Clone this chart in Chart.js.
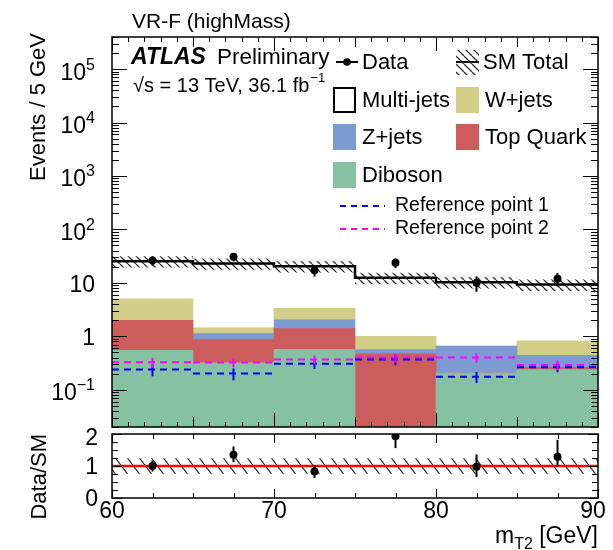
<!DOCTYPE html>
<html>
<head>
<meta charset="utf-8">
<script src="https://cdn.jsdelivr.net/npm/chart.js@4.4.0/dist/chart.umd.min.js"></script>
<style>
body { margin: 0; background: #fff; }
#wrap { position: relative; width: 613px; height: 550px; }
#wrap canvas { position: absolute; left: 0; top: 0; }
</style>
</head>
<body>
<div id="wrap">
<canvas id="mainChart" width="613" height="550"></canvas>
<canvas id="ratioChart" width="613" height="550"></canvas>
</div>
<script>
// binning (m_T2 in GeV)
const binEdges = [60, 65, 70, 75, 80, 85, 90]
const binNames = ['60-65', '65-70', '70-75', '75-80', '80-85', '85-90']
const binCenters = [62.5, 67.5, 72.5, 77.5, 82.5, 87.5]

// data
const dataEvents = [26.2, 30.7, 17.2, 23.7, 10.0, 11.9]
const dataErr = [5.1, 5.5, 4.1, 4.9, 3.2, 3.4]

// backgrounds (stacked, bottom to top)
const diboson = [0.547, 0.318, 0.571, 0.001, 0.206, 0.238]
const topQuark = [1.44, 0.549, 0.82, 0.467, 0.001, 0.025]
const zJets = [0.001, 0.253, 0.64, 0.096, 0.444, 0.178]
const wJets = [3.02, 0.32, 1.31, 0.436, 0.001, 0.379]
const multiJets = [20.4, 21.6, 17.2, 11.4, 9.65, 8.48]

const smTotal = [25.4, 23.0, 20.5, 12.4, 10.3, 9.3]
const smRelErr = [0.24, 0.24, 0.24, 0.24, 0.24, 0.24]

// signal reference points
const refPoint1 = [0.238, 0.200, 0.304, 0.366, 0.174, 0.263]
const refPoint1Err = [0.06, 0.05, 0.06, 0.08, 0.04, 0.05]
const refPoint2 = [0.326, 0.322, 0.366, 0.399, 0.399, 0.291]
const refPoint2Err = [0.07, 0.06, 0.07, 0.08, 0.08, 0.06]

// ratio panel
const ratioVals = [1.0, 1.35, 0.83, 1.93, 0.98, 1.29]
const ratioErrUp = [0.17, 0.26, 0.2, 0.39, 0.38, 0.53]
const ratioErrDown = [0.17, 0.23, 0.2, 0.37, 0.32, 0.31]

// tick labels
const yDecades = [-1, 0, 1, 2, 3, 4, 5]
const xTickLabels = [60, 70, 80, 90]
const ratioTickLabels = [0, 1, 2]

const FONT = '"Liberation Sans", Arial, Helvetica, sans-serif'
const colDiboson = '#86c1a1'
const colTop = '#cd5c5c'
const colZ = '#7b9bd2'
const colW = '#d2cd87'
const colRef1 = '#0000ff'
const colRef2 = '#ff00ff'

function makeHatch(w, h) {
    const c = document.createElement('canvas')
    c.width = w
    c.height = h
    const g = c.getContext('2d')
    g.strokeStyle = '#333'
    g.lineWidth = 1.3
    g.beginPath()
    g.moveTo(0, 0); g.lineTo(w, h)
    g.moveTo(-w, 0); g.lineTo(0, h)
    g.moveTo(w, 0); g.lineTo(2 * w, h)
    g.stroke()
    return g.createPattern(c, 'repeat')
}
const hatchMain = makeHatch(8, 8)
const hatchRatio = makeHatch(12, 16)

// histogram outline points, two per bin
function histPoints(vals) {
    const pts = []
    vals.forEach((v, i) => {
        pts.push({x: binEdges[i], y: v})
        pts.push({x: binEdges[i + 1], y: v})
    })
    return pts
}
// separate horizontal segments per bin
function segPoints(vals) {
    const pts = []
    vals.forEach((v, i) => {
        pts.push({x: binEdges[i], y: v}, {x: binEdges[i + 1], y: v}, {x: binEdges[i + 1], y: null})
    })
    return pts
}

function line(ctx, x1, y1, x2, y2) {
    ctx.beginPath()
    ctx.moveTo(x1, y1)
    ctx.lineTo(x2, y2)
    ctx.stroke()
}

function drawPow(ctx, exp, xRight, y) {
    ctx.font = '16px ' + FONT
    const ew = ctx.measureText(exp).width
    ctx.font = '23px ' + FONT
    const bw = ctx.measureText('10').width
    ctx.textAlign = 'left'
    ctx.textBaseline = 'middle'
    ctx.fillText('10', xRight - ew - bw, y + 4)
    ctx.font = '16px ' + FONT
    ctx.fillText(exp, xRight - ew, y - 4)
}

// MAIN PANEL decorations
const mainDecor = {
    id: 'mainDecor',
    afterDraw(chart) {
        const ctx = chart.ctx
        const a = chart.chartArea
        const xs = chart.scales.x2
        const ys = chart.scales.y2
        ctx.save()

        // error bars of reference points
        ctx.lineWidth = 2
        ;[[refPoint1, refPoint1Err, colRef1], [refPoint2, refPoint2Err, colRef2]].forEach(([vals, errs, col]) => {
            ctx.strokeStyle = col
            binCenters.forEach((c, i) => {
                const px = xs.getPixelForValue(c)
                line(ctx, px, ys.getPixelForValue(vals[i] + errs[i]), px, ys.getPixelForValue(vals[i] - errs[i]))
            })
        })

        // data error bars
        ctx.strokeStyle = '#000'
        binCenters.forEach((c, i) => {
            const px = xs.getPixelForValue(c)
            line(ctx, px, ys.getPixelForValue(dataEvents[i] + dataErr[i]), px, ys.getPixelForValue(dataEvents[i] - dataErr[i]))
        })

        // frame
        ctx.lineWidth = 1.5
        ctx.strokeRect(a.left, a.top, a.right - a.left, a.bottom - a.top)

        // y ticks (log)
        ctx.lineWidth = 1
        for (let d = -2; d <= 5; d++) {
            for (let k = 1; k <= 9; k++) {
                const v = k * Math.pow(10, d)
                if (v < ys.min || v > ys.max) continue
                const py = Math.round(ys.getPixelForValue(v)) + 0.5
                const len = k === 1 ? 15 : 7
                line(ctx, a.left, py, a.left + len, py)
                line(ctx, a.right - len, py, a.right, py)
            }
        }
        // x ticks
        for (let g = 60; g <= 90; g++) {
            const px = Math.round(xs.getPixelForValue(g)) + 0.5
            const len = g % 10 === 0 ? 14 : (g % 5 === 0 ? 10 : 5)
            line(ctx, px, a.bottom, px, a.bottom - len)
            line(ctx, px, a.top, px, a.top + len)
        }

        // y labels
        ctx.fillStyle = '#000'
        yDecades.forEach(d => {
            const py = ys.getPixelForValue(Math.pow(10, d))
            if (d === 0 || d === 1) {
                ctx.font = '23px ' + FONT
                ctx.textAlign = 'right'
                ctx.textBaseline = 'middle'
                ctx.fillText(d === 0 ? '1' : '10', 95, py + 2.5)
            } else {
                drawPow(ctx, String(d).replace('-', '\u2212'), 95, py)
            }
        })

        // y title
        ctx.save()
        ctx.translate(45, 33)
        ctx.rotate(-Math.PI / 2)
        ctx.font = '22px ' + FONT
        ctx.textAlign = 'right'
        ctx.textBaseline = 'alphabetic'
        ctx.fillText('Events / 5 GeV', 0, 0)
        ctx.restore()

        // titles
        ctx.textAlign = 'left'
        ctx.textBaseline = 'alphabetic'
        ctx.font = '21px ' + FONT
        ctx.fillText('VR-F (highMass)', 132, 28)
        ctx.font = 'italic bold 23px ' + FONT
        ctx.fillText('ATLAS', 131, 64)
        ctx.font = '22.5px ' + FONT
        ctx.fillText('Preliminary', 217, 64)
        ctx.font = '20px ' + FONT
        const lumi = '\u221As = 13 TeV, 36.1 fb'
        ctx.fillText(lumi, 133, 92)
        const lw = ctx.measureText(lumi).width
        ctx.font = '13px ' + FONT
        ctx.fillText('\u22121', 133 + lw + 1, 82)

        // legend
        ctx.font = '22px ' + FONT
        ctx.textBaseline = 'middle'
        // Data
        ctx.strokeStyle = '#000'
        ctx.lineWidth = 2
        line(ctx, 336, 62, 358, 62)
        ctx.beginPath()
        ctx.arc(347, 62, 3.8, 0, Math.PI * 2)
        ctx.fill()
        ctx.fillText('Data', 362, 63)
        // SM Total
        ctx.save()
        ctx.beginPath()
        ctx.rect(456, 50, 23, 25)
        ctx.clip()
        ctx.fillStyle = hatchMain
        ctx.fillRect(456, 50, 23, 25)
        ctx.restore()
        line(ctx, 456, 62, 479, 62)
        ctx.fillText('SM Total', 483, 63)
        // boxes
        const boxes = [
            [333, 87, null, 'Multi-jets'], [456, 87, colW, 'W+jets'],
            [333, 124, colZ, 'Z+jets'], [456, 124, colTop, 'Top Quark'],
            [333, 162, colDiboson, 'Diboson']
        ]
        boxes.forEach(([bx, by, col, name]) => {
            if (col) {
                ctx.fillStyle = col
                ctx.fillRect(bx, by, 23, 26)
            } else {
                ctx.lineWidth = 2
                ctx.strokeStyle = '#000'
                ctx.strokeRect(bx + 1, by + 1, 21, 24)
            }
            ctx.fillStyle = '#000'
            ctx.fillText(name, bx + 29, by + 14)
        })
        // reference points
        ctx.lineWidth = 2
        ctx.setLineDash([6, 5])
        ctx.strokeStyle = colRef1
        line(ctx, 340, 206, 385, 206)
        ctx.strokeStyle = colRef2
        line(ctx, 340, 229, 385, 229)
        ctx.setLineDash([])
        ctx.font = '19.5px ' + FONT
        ctx.fillText('Reference point 1', 395, 206)
        ctx.fillText('Reference point 2', 395, 229)

        ctx.restore()
    }
}

new Chart(document.getElementById('mainChart'), {
    type: 'bar',
    data: {
        labels: binNames,
        datasets: [
            {label: 'Diboson', data: diboson, backgroundColor: colDiboson, stack: 'bg', order: 10},
            {label: 'Top Quark', data: topQuark, backgroundColor: colTop, stack: 'bg', order: 10},
            {label: 'Z+jets', data: zJets, backgroundColor: colZ, stack: 'bg', order: 10},
            {label: 'W+jets', data: wJets, backgroundColor: colW, stack: 'bg', order: 10},
            {label: 'Multi-jets', data: multiJets, backgroundColor: '#ffffff', stack: 'bg', order: 10},
            {
                type: 'line', label: 'SM up', xAxisID: 'x2', yAxisID: 'y2',
                data: histPoints(smTotal.map((v, i) => v * (1 + smRelErr[i]))),
                borderWidth: 0, pointRadius: 0, fill: '+1', backgroundColor: hatchMain, order: 5
            },
            {
                type: 'line', label: 'SM down', xAxisID: 'x2', yAxisID: 'y2',
                data: histPoints(smTotal.map((v, i) => v * (1 - smRelErr[i]))),
                borderWidth: 0, pointRadius: 0, fill: false, order: 5
            },
            {
                type: 'line', label: 'SM Total', xAxisID: 'x2', yAxisID: 'y2',
                data: histPoints(smTotal), borderColor: '#000', borderWidth: 2.5,
                pointRadius: 0, fill: false, order: 3
            },
            {
                type: 'line', label: 'Reference point 1', xAxisID: 'x2', yAxisID: 'y2',
                data: segPoints(refPoint1), borderColor: colRef1, borderWidth: 2, borderDash: [7, 5],
                pointRadius: 0, fill: false, order: 4
            },
            {
                type: 'line', label: 'Reference point 2', xAxisID: 'x2', yAxisID: 'y2',
                data: segPoints(refPoint2), borderColor: colRef2, borderWidth: 2, borderDash: [7, 5],
                pointRadius: 0, fill: false, order: 4.5
            },
            {
                type: 'line', label: 'Data', xAxisID: 'x2', yAxisID: 'y2',
                data: binCenters.map((c, i) => ({x: c, y: dataEvents[i]})),
                showLine: false, pointRadius: 4, pointBackgroundColor: '#000', pointBorderWidth: 0, order: 0
            }
        ]
    },
    options: {
        responsive: false,
        animation: false,
        layout: {padding: {left: 112, right: 15, top: 37, bottom: 123}},
        plugins: {legend: {display: false}, tooltip: {enabled: false}},
        datasets: {bar: {barPercentage: 1, categoryPercentage: 1, borderWidth: 0, grouped: false}},
        scales: {
            x: {display: false, stacked: true, offset: true},
            x2: {type: 'linear', display: false, min: 60, max: 90, offset: false, grid: {offset: false}},
            y: {type: 'logarithmic', display: false, stacked: true, min: 0.02, max: 4e5},
            y2: {type: 'logarithmic', display: false, min: 0.02, max: 4e5}
        }
    },
    plugins: [mainDecor]
})

// RATIO PANEL decorations
const ratioDecor = {
    id: 'ratioDecor',
    afterDraw(chart) {
        const ctx = chart.ctx
        const a = chart.chartArea
        const xs = chart.scales.x
        const ys = chart.scales.y
        ctx.save()

        // error bars
        ctx.strokeStyle = '#000'
        ctx.lineWidth = 2
        ctx.beginPath()
        ctx.rect(a.left, a.top, a.right - a.left, a.bottom - a.top)
        ctx.clip()
        binCenters.forEach((c, i) => {
            const px = xs.getPixelForValue(c)
            line(ctx, px, ys.getPixelForValue(ratioVals[i] + ratioErrUp[i]), px, ys.getPixelForValue(ratioVals[i] - ratioErrDown[i]))
        })
        ctx.restore()
        ctx.save()

        // frame
        ctx.lineWidth = 1.5
        ctx.strokeRect(a.left, a.top, a.right - a.left, a.bottom - a.top)

        // ticks
        ctx.lineWidth = 1
        for (let r = 0; r <= 2.001; r += 0.25) {
            const py = Math.round(ys.getPixelForValue(r)) + 0.5
            const len = Math.abs(r - Math.round(r)) < 0.01 ? 10 : 6
            line(ctx, a.left, py, a.left + len, py)
            line(ctx, a.right - len, py, a.right, py)
        }
        for (let g = 60; g <= 90; g += 2.5) {
            const px = Math.round(xs.getPixelForValue(g)) + 0.5
            const len = g % 10 === 0 ? 9 : 5
            line(ctx, px, a.bottom, px, a.bottom - len)
            line(ctx, px, a.top, px, a.top + len)
        }

        // labels
        ctx.fillStyle = '#000'
        ctx.font = '23px ' + FONT
        ctx.textAlign = 'right'
        ctx.textBaseline = 'middle'
        ratioTickLabels.forEach(r => {
            const py = ys.getPixelForValue(r)
            ctx.fillText(String(r), 98, py + (r === 2 ? 5 : 2))
        })
        ctx.textAlign = 'center'
        xTickLabels.forEach(g => {
            let px = xs.getPixelForValue(g)
            ctx.fillText(String(g), g === 90 ? px - 5 : px, 512)
        })

        // x title m_T2 [GeV]
        ctx.textAlign = 'left'
        ctx.textBaseline = 'alphabetic'
        ctx.font = '23px ' + FONT
        const wm = ctx.measureText('m').width
        const wg = ctx.measureText(' [GeV]').width
        ctx.font = '16px ' + FONT
        const wt = ctx.measureText('T2').width
        let x0 = 598 - wm - wt - wg
        ctx.font = '23px ' + FONT
        ctx.fillText('m', x0, 543)
        ctx.fillText(' [GeV]', x0 + wm + wt, 543)
        ctx.font = '16px ' + FONT
        ctx.fillText('T2', x0 + wm, 549)

        // y title
        ctx.save()
        ctx.translate(46, 434)
        ctx.rotate(-Math.PI / 2)
        ctx.font = '22px ' + FONT
        ctx.textAlign = 'right'
        ctx.fillText('Data/SM', 0, 0)
        ctx.restore()

        ctx.restore()
    }
}

new Chart(document.getElementById('ratioChart'), {
    type: 'line',
    data: {
        datasets: [
            {
                label: 'band up', data: histPoints(smRelErr.map(e => 1 + e)),
                borderWidth: 0, pointRadius: 0, fill: '+1', backgroundColor: hatchRatio, order: 3
            },
            {
                label: 'band down', data: histPoints(smRelErr.map(e => 1 - e)),
                borderWidth: 0, pointRadius: 0, fill: false, order: 3
            },
            {
                label: 'unity', data: [{x: 60, y: 1}, {x: 90, y: 1}],
                borderColor: '#ff0000', borderWidth: 2.5, pointRadius: 0, fill: false, order: 2
            },
            {
                label: 'Data/SM', data: binCenters.map((c, i) => ({x: c, y: ratioVals[i]})),
                showLine: false, pointRadius: 4, pointBackgroundColor: '#000', pointBorderWidth: 0, order: 0
            }
        ]
    },
    options: {
        responsive: false,
        animation: false,
        layout: {padding: {left: 112, right: 15, top: 434, bottom: 52}},
        plugins: {legend: {display: false}, tooltip: {enabled: false}},
        scales: {
            x: {type: 'linear', display: false, min: 60, max: 90},
            y: {type: 'linear', display: false, min: 0, max: 2}
        }
    },
    plugins: [ratioDecor]
})
</script>
</body>
</html>
